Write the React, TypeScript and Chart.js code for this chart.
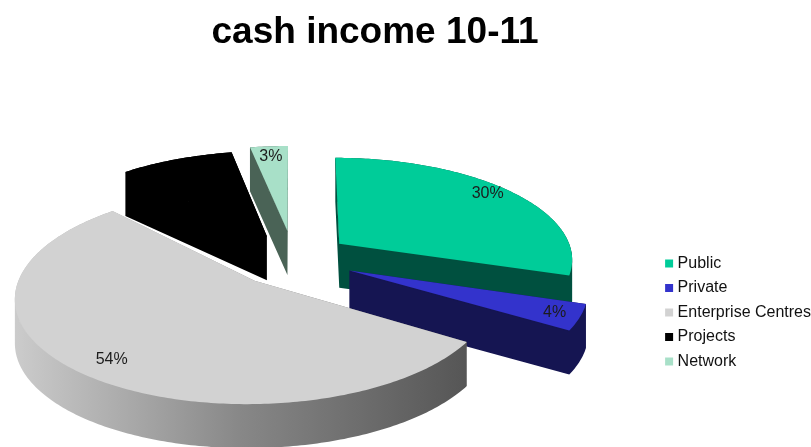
import React, { useEffect, useRef } from "react";
import { Chart, registerables } from "chart.js";

Chart.register(...registerables);

const categories = ["Public", "Private", "Enterprise Centres", "Projects", "Network"];
const shares = [30, 4, 54, 9, 3];
const topColors = ["#00CC99", "#3333CC", "#D2D2D2", "#000000", "#A8E0C8"];
const sideColors = ["#00503F", "#151552", "gradient", "#000000", "#4A6356"];
const labelColors = ["#1c1c1c", "#1c1c1c", "#1c1c1c", "#000000", "#1c1c1c"];
const explodeOffsets = [17, 28, 29, 22, 21];
const labelReach = [0.85, 0.87, 0.8, 0.7, 0.88];
const labelNudgeY = [-4, 0, 4, 0, 1];
const sliceScale = [0.98, 0.97, 0.96, 1, 1];
const sliceNudgeX = [7, -12, 0, -10, -8];
const sliceNudgeY = [-1, 3, 2, 1, -3];
const paintOrder = [4, 3, 0, 1, 2];

const view = { cx: 300, cy: 255, rx: 238, ry: 103, k: 0.145, depth: 44 };

type Pt = { x: number; y: number };

const project = (X: number, Y: number, i: number): Pt => {
  const w = 1 - view.k * Y;
  return {
    x: view.cx + (view.rx * X) / w + sliceNudgeX[i],
    y: view.cy + (view.ry * Y) / w + sliceNudgeY[i],
  };
};

const slicePoints = (arc: any, i: number) => {
  const R = arc.outerRadius;
  const mid = (arc.startAngle + arc.endAngle) / 2;
  const o = (arc.options.offset || 0) / R;
  const ox = Math.cos(mid) * o;
  const oy = Math.sin(mid) * o;
  const s = sliceScale[i];
  const pts = [project(ox, oy, i)];
  const n = Math.max(2, Math.ceil((arc.endAngle - arc.startAngle) / 0.015));
  for (let j = 0; j <= n; j++) {
    const a = arc.startAngle + ((arc.endAngle - arc.startAngle) * j) / n;
    pts.push(project(ox + s * Math.cos(a), oy + s * Math.sin(a), i));
  }
  return pts;
};

const fillPoly = (ctx: CanvasRenderingContext2D, pts: Pt[], style: any, dy = 0) => {
  ctx.beginPath();
  pts.forEach((p, i) => (i ? ctx.lineTo(p.x, p.y + dy) : ctx.moveTo(p.x, p.y + dy)));
  ctx.closePath();
  ctx.fillStyle = style;
  ctx.fill();
};

// All wall quads go into one path with the same winding, so no seams show.
const fillWalls = (ctx: CanvasRenderingContext2D, pts: Pt[], style: any) => {
  ctx.beginPath();
  pts.forEach((p, j) => {
    const q = pts[(j + 1) % pts.length];
    const d = view.depth;
    const forward = q.x >= p.x;
    const a = forward ? p : q;
    const b = forward ? q : p;
    ctx.moveTo(a.x, a.y);
    ctx.lineTo(b.x, b.y);
    ctx.lineTo(b.x, b.y + d);
    ctx.lineTo(a.x, a.y + d);
    ctx.closePath();
  });
  ctx.fillStyle = style;
  ctx.fill("nonzero");
};

const pie3d = {
  id: "pie3d",
  beforeDatasetsDraw(chart: any) {
    const ctx: CanvasRenderingContext2D = chart.ctx;
    const arcs = chart.getDatasetMeta(0).data;
    const grad = ctx.createLinearGradient(14, 0, 470, 0);
    grad.addColorStop(0, "#CCCCCC");
    grad.addColorStop(0.5, "#878787");
    grad.addColorStop(1, "#555555");
    paintOrder.forEach((i) => {
      const pts = slicePoints(arcs[i], i);
      const side = sideColors[i] === "gradient" ? grad : sideColors[i];
      fillWalls(ctx, pts, side);
      fillPoly(ctx, pts, side, 1);
      fillPoly(ctx, pts, topColors[i]);
    });
    ctx.save();
    ctx.font = "16px 'Liberation Sans'";
    ctx.textAlign = "center";
    ctx.textBaseline = "middle";
    arcs.forEach((arc: any, i: number) => {
      const R = arc.outerRadius;
      const mid = (arc.startAngle + arc.endAngle) / 2;
      const r = (arc.options.offset || 0) / R + labelReach[i];
      const p = project(Math.cos(mid) * r, Math.sin(mid) * r, i);
      ctx.fillStyle = labelColors[i];
      ctx.fillText(`${shares[i]}%`, p.x, p.y + labelNudgeY[i]);
    });
    ctx.restore();
    return false;
  },
};

export default function App() {
  const ref = useRef<HTMLCanvasElement>(null);
  useEffect(() => {
    document.body.style.margin = "0";
    const base = (Chart as any).overrides.pie.plugins.legend.labels.generateLabels;
    const chart = new Chart(ref.current as HTMLCanvasElement, {
      type: "pie",
      data: {
        labels: categories,
        datasets: [
          {
            data: shares,
            backgroundColor: topColors,
            borderWidth: 0,
            offset: explodeOffsets,
            radius: 100,
          } as any,
        ],
      },
      options: {
        responsive: false,
        animation: false,
        devicePixelRatio: 1,
        layout: { padding: { left: 90, bottom: 69, right: -10 } },
        plugins: {
          tooltip: { enabled: false },
          title: {
            display: true,
            text: "cash income 10-11",
            fullSize: false,
            color: "#000000",
            font: { family: "'Liberation Sans'", size: 37, weight: "bold" },
            padding: { top: 11, bottom: 10 },
          },
          legend: {
            position: "right",
            align: "end",
            labels: {
              boxWidth: 1,
              boxHeight: 1,
              padding: 8.5,
              color: "#111111",
              font: { family: "'Liberation Sans'", size: 16 },
              generateLabels: (c: any) =>
                base(c).map((l: any) => ({ ...l, strokeStyle: l.fillStyle, lineWidth: 7, lineJoin: "miter" })),
            },
          },
        },
      },
      plugins: [pie3d],
    } as any);
    return () => chart.destroy();
  }, []);
  return <canvas ref={ref} width={811} height={447} style={{ display: "block" }} />;
}
